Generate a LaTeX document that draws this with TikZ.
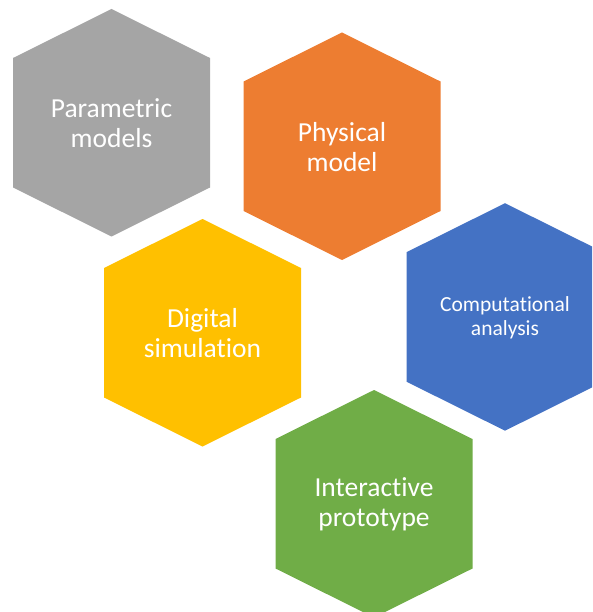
\documentclass[tikz,border=0pt]{standalone}
\usepackage{fontspec}
\setmainfont{Carlito}[Ligatures={NoCommon,NoContextual}]
\definecolor{hgray}{HTML}{A5A5A5}
\definecolor{horange}{HTML}{ED7D31}
\definecolor{hyellow}{HTML}{FFC000}
\definecolor{hblue}{HTML}{4472C4}
\definecolor{hgreen}{HTML}{70AD47}
\tikzset{
  hexlabel/.style={text=white, align=center, inner sep=0pt, font=\fontsize{27.5}{30}\selectfont},
  hexsmall/.style={hexlabel, font=\fontsize{21.5}{24}\selectfont},
}
\newcommand\hexcell[2]{%
  \fill[#2] (#1) ++(0,113.5pt) -- ++(-98.5pt,-49pt) -- ++(0,-129.5pt) -- ++(98.5pt,-49pt)
    -- ++(98.5pt,49pt) -- ++(0,129.5pt) -- cycle;}
\begin{document}
\begin{tikzpicture}[x=1pt,y=1pt]
\useasboundingbox (0,0) rectangle (592,-612);
\clip (0,0) rectangle (592,-612);
\coordinate (cgray) at (111.5,-122.5);
\coordinate (corange) at (342,-146);
\coordinate (cyellow) at (202.5,-332.5);
\coordinate (cblue) at (505,-316.7);
\coordinate (cgreen) at (374,-503.5);
\hexcell{cgray}{hgray}
\hexcell{corange}{horange}
\hexcell{cyellow}{hyellow}
\hexcell{cblue}{hblue}
\hexcell{cgreen}{hgreen}
\node[hexlabel] (gray) at ([yshift=-1pt]cgray) {Parametric\\models};
\node[hexlabel] (orange) at ([yshift=-1pt]corange) {Physical\\model};
\node[hexlabel] (yellow) at ([yshift=-1pt]cyellow) {Digital\\simulation};
\node[hexsmall] (blue) at ([yshift=-1pt]cblue) {Computational\\analysis};
\node[hexlabel] (green) at ([yshift=-1pt]cgreen) {Interactive\\prototype};
\end{tikzpicture}
\end{document}
